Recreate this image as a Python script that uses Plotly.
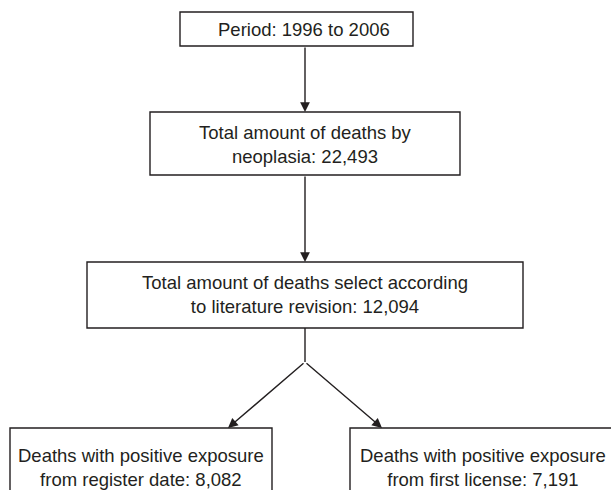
"""Flow chart of the death-record selection steps, drawn on a pixel-scaled Plotly canvas."""

import plotly.graph_objects as go

# --- chart content -------------------------------------------------------
step_labels = [
    "Period: 1996 to 2006",
    "Total amount of deaths by<br>neoplasia: {}",
    "Total amount of deaths select according<br>to literature revision: {}",
    "Deaths with positive exposure<br>from register date: {}",
    "Deaths with positive exposure<br>from first license: {}",
]
step_counts = [None, "22,493", "12,094", "8,082", "7,191"]

# --- layout (screen pixels, y grows downward) ----------------------------
W, H = 611, 490
INK = "#231f20"
FONT = dict(family="Liberation Sans, Arial, Helvetica, sans-serif", size=18.5, color=INK)
LINE = dict(color=INK, width=1.4)

# box edges: x0, x1, y0, y1 ; text centre: tx, ty
boxes = [
    dict(x0=180, x1=413, y0=12, y1=46, tx=304, ty=29),
    dict(x0=150, x1=460, y0=112, y1=175, tx=305, ty=144),
    dict(x0=87, x1=523, y0=262, y1=328, tx=305, ty=294),
    dict(x0=10, x1=272, y0=428, y1=530, tx=141, ty=467),
    dict(x0=350, x1=650, y0=428, y1=530, tx=483, ty=467),
]

fig = go.Figure()

for box, label, count in zip(boxes, step_labels, step_counts):
    fig.add_shape(type="rect", x0=box["x0"], x1=box["x1"], y0=box["y0"], y1=box["y1"],
                  line=LINE, fillcolor="white", layer="below")
    text = label.format(count) if count else label
    fig.add_annotation(x=box["tx"], y=box["ty"], text=text, showarrow=False,
                       font=FONT, align="center", xanchor="center", yanchor="middle")

arrow_style = dict(text="", showarrow=True, axref="x", ayref="y", arrowhead=2,
                   arrowsize=1.4, arrowwidth=1.4, arrowcolor=INK, standoff=0)

# connectors: straight arrows down the spine
cx = 305
for tail, head in [(boxes[0]["y1"], boxes[1]["y0"]), (boxes[1]["y1"], boxes[2]["y0"])]:
    fig.add_annotation(x=cx, y=head, ax=cx, ay=tail, **arrow_style)

# split: short stem then two diagonal arrows
fork_y = 362
fig.add_shape(type="line", x0=cx, x1=cx, y0=boxes[2]["y1"], y1=fork_y, line=LINE)
for tip_x in (228, 382):
    fig.add_annotation(x=tip_x, y=boxes[3]["y0"], ax=cx, ay=fork_y, **arrow_style)

fig.update_xaxes(range=[0, W], visible=False, fixedrange=True)
fig.update_yaxes(range=[H, 0], visible=False, fixedrange=True)
fig.update_layout(
    width=W, height=H,
    margin=dict(l=0, r=0, t=0, b=0),
    paper_bgcolor="white", plot_bgcolor="white",
    showlegend=False,
)

# drop the page's default body margin so the figure sits flush at the top-left corner
fig.write_html(
    "out.html",
    config={"displayModeBar": False},
    post_script="document.body.style.margin='0';document.body.style.overflow='hidden';",
)
